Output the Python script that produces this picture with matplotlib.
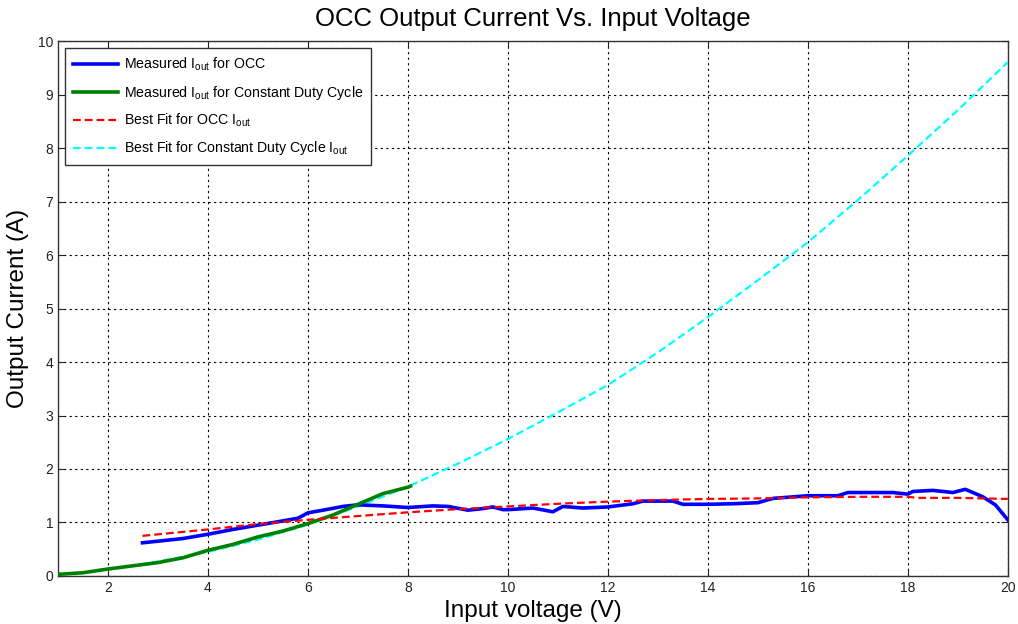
import matplotlib
matplotlib.use("Agg")
import matplotlib.pyplot as plt

plt.rcParams["font.family"] = ["Liberation Sans", "DejaVu Sans"]
plt.rcParams["mathtext.fontset"] = "custom"
plt.rcParams["mathtext.rm"] = "Liberation Sans"
plt.rcParams["mathtext.it"] = "Liberation Sans"

# Measured output current with OCC control
occ_v = [2.69, 3.0, 3.5, 4.0, 4.5, 5.0, 5.5, 5.8, 6.0, 6.3, 6.7, 7.0, 7.5, 8.0,
         8.5, 8.8, 9.2, 9.5, 9.7, 9.9, 10.0, 10.5, 10.9, 11.1, 11.5, 12.0, 12.5,
         12.7, 13.3, 13.5, 14.0, 14.5, 15.0, 15.3, 16.0, 16.6, 16.8, 17.7, 18.0,
         18.1, 18.5, 18.9, 19.15, 19.5, 19.75, 20.0]
occ_i = [0.62, 0.65, 0.70, 0.78, 0.87, 0.95, 1.03, 1.08, 1.18, 1.23, 1.30, 1.33,
         1.31, 1.28, 1.31, 1.30, 1.23, 1.26, 1.29, 1.24, 1.24, 1.27, 1.20, 1.30,
         1.27, 1.29, 1.35, 1.40, 1.40, 1.34, 1.34, 1.35, 1.37, 1.45, 1.50, 1.50,
         1.56, 1.56, 1.53, 1.58, 1.60, 1.56, 1.62, 1.48, 1.33, 1.05]

# Measured output current with a constant duty cycle
cdc_v = [1.0, 1.5, 2.0, 2.5, 3.0, 3.5, 4.0, 4.5, 5.0, 5.5, 6.0, 6.5, 7.0, 7.5, 8.0, 8.05]
cdc_i = [0.03, 0.06, 0.13, 0.19, 0.25, 0.34, 0.48, 0.59, 0.73, 0.84, 0.98, 1.14,
         1.34, 1.54, 1.66, 1.68]

# Best fit of the OCC current
occ_fit_v = [2.69, 4.0, 5.0, 6.0, 7.0, 8.0, 9.0, 10.0, 11.0, 12.0, 13.0, 14.0,
             15.0, 16.0, 17.0, 18.0, 18.2, 19.0, 20.0]
occ_fit_i = [0.75, 0.87, 0.97, 1.05, 1.12, 1.19, 1.25, 1.30, 1.35, 1.39, 1.42,
             1.44, 1.45, 1.47, 1.48, 1.48, 1.46, 1.46, 1.44]

# Best fit of the constant duty cycle current
cdc_fit_v = [1, 2, 3, 4, 5, 6, 7, 8, 9, 10, 11, 12, 13, 14, 15, 16, 17, 18, 19, 20]
cdc_fit_i = [0.01, 0.12, 0.27, 0.45, 0.68, 0.96, 1.30, 1.67, 2.10, 2.56, 3.06,
             3.57, 4.18, 4.84, 5.53, 6.24, 7.03, 7.86, 8.71, 9.61]

x_ticks = [2, 4, 6, 8, 10, 12, 14, 16, 18, 20]
y_ticks = [0, 1, 2, 3, 4, 5, 6, 7, 8, 9, 10]

fig = plt.figure(figsize=(10.18, 6.24), dpi=100)
ax = fig.add_axes([0.057, 0.077, 0.933, 0.857])

ax.plot(occ_v, occ_i, color="#0000ff", lw=2.6, label=r"Measured I$_{\mathrm{out}}$ for OCC", zorder=4)
ax.plot(cdc_v, cdc_i, color="#008000", lw=2.6,
        label=r"Measured I$_{\mathrm{out}}$ for Constant Duty Cycle", zorder=4)
ax.plot(occ_fit_v, occ_fit_i, color="#ff0000", lw=1.6, ls=(0, (3.5, 1.8)),
        label=r"Best Fit for OCC I$_{\mathrm{out}}$", zorder=5)
ax.plot(cdc_fit_v, cdc_fit_i, color="#00ffff", lw=1.6, ls=(0, (3.5, 1.8)),
        label=r"Best Fit for Constant Duty Cycle I$_{\mathrm{out}}$", zorder=3)

ax.set_xlim(1, 20)
ax.set_ylim(0, 10)
ax.set_xticks(x_ticks)
ax.set_yticks(y_ticks)
ax.tick_params(direction="in", top=True, right=True, labelsize=10, length=5,
               colors="#222222")
ax.grid(True, color="black", ls=(0, (2, 3)), lw=0.8)
for s in ax.spines.values():
    s.set_color("#333333")
    s.set_linewidth(1.0)

ax.set_title("OCC Output Current Vs. Input Voltage", fontsize=18.5, pad=11)
ax.set_xlabel("Input voltage (V)", fontsize=17.5, labelpad=4)
ax.set_ylabel("Output Current (A)", fontsize=17.5, labelpad=6)

leg = ax.legend(loc="upper left", fontsize=10.2, fancybox=False, framealpha=1,
                edgecolor="#333333", handlelength=3.2, handletextpad=0.4,
                borderaxespad=0.5, labelspacing=0.72, borderpad=0.55)
leg.get_frame().set_linewidth(1.0)

fig.savefig("out.png", dpi=100)
